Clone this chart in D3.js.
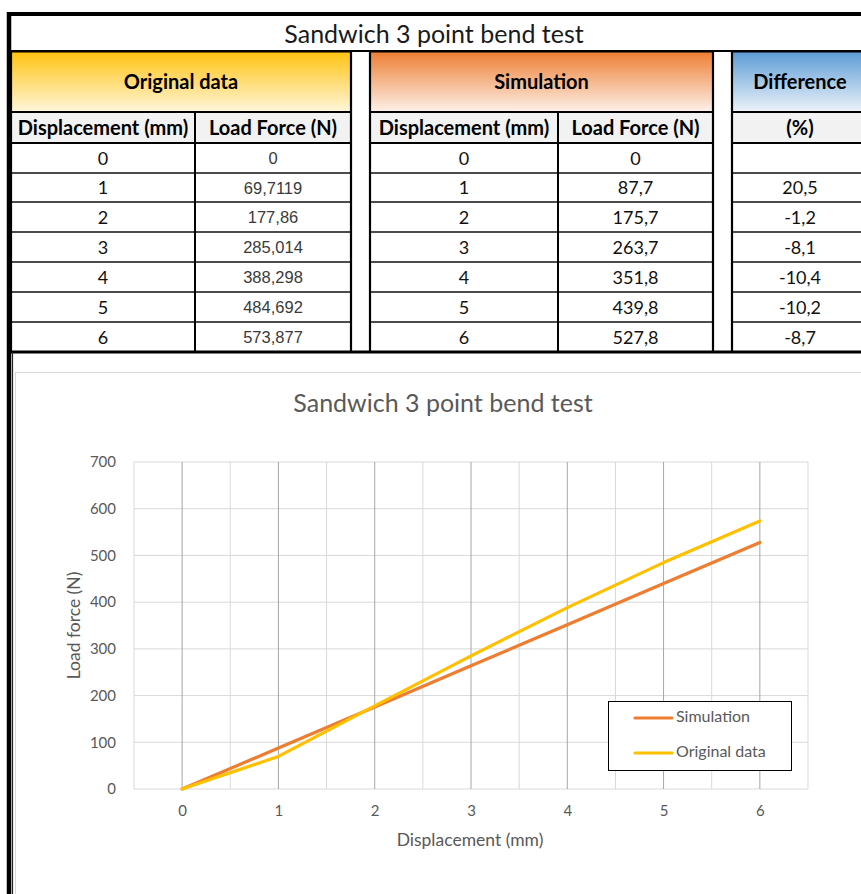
<!DOCTYPE html>
<html>
<head>
<meta charset="utf-8">
<script src="https://cdn.jsdelivr.net/npm/d3@7/dist/d3.min.js"></script>
<style>
  html, body { margin: 0; padding: 0; background: #fff; }
  svg { display: block; }
</style>
</head>
<body>
<svg id="root" width="861" height="894"></svg>
<script>
// Sandwich 3 point bend test: measured vs simulated load force
const displacement = [0, 1, 2, 3, 4, 5, 6];
const originalForce = [0, 69.7119, 177.86, 285.014, 388.298, 484.692, 573.877];
const simulationForce = [0, 87.7, 175.7, 263.7, 351.8, 439.8, 527.8];
const differencePct = [null, 20.5, -1.2, -8.1, -10.4, -10.2, -8.7];
const yTicks = [0, 100, 200, 300, 400, 500, 600, 700];
const xTicks = [0, 1, 2, 3, 4, 5, 6];

const TITLE = "Sandwich 3 point bend test";
const CAL = "Lato, 'Open Sans', sans-serif";
const ARIAL = "'Liberation Sans', Arial, sans-serif";

const svg = d3.select("#root");
const comma = s => String(s).replace(".", ",");
const fmt1 = v => v === 0 ? "0" : comma(v.toFixed(1));

// ---------- table ----------
const defs = svg.append("defs");
function grad(id, top, bottom) {
  const g = defs.append("linearGradient").attr("id", id)
    .attr("x1", 0).attr("y1", 0).attr("x2", 0).attr("y2", 1);
  g.append("stop").attr("offset", "0%").attr("stop-color", top);
  g.append("stop").attr("offset", "100%").attr("stop-color", bottom);
}
grad("gOrig", "#FFC20E", "#FFF6DC");
grad("gSim", "#ED7D31", "#FDF1EA");
grad("gDiff", "#5B9BD5", "#EDF3FA");

const sections = [
  { name: "Original data", fill: "url(#gOrig)", x0: 11, x1: 351, div: 195,
    heads: ["Displacement (mm)", "Load Force (N)"] },
  { name: "Simulation", fill: "url(#gSim)", x0: 370, x1: 713, div: 558,
    heads: ["Displacement (mm)", "Load Force (N)"] },
  { name: "Difference", fill: "url(#gDiff)", x0: 732, x1: 866, div: null,
    heads: ["(%)"] }
];
const rowY = [143, 173, 202, 232, 262, 292, 322, 352];
const yHead0 = 51, yCol0 = 112;

const tbl = svg.append("g");
// title row
tbl.append("text").attr("x", 434).attr("y", 37).attr("text-anchor", "middle")
  .attr("dominant-baseline", "middle")
  .style("font-family", CAL).style("font-size", "25px").style("fill", "#1a1a1a")
  .text(TITLE);

sections.forEach((s, si) => {
  const g = tbl.append("g");
  g.append("rect").attr("x", s.x0).attr("y", yHead0).attr("width", s.x1 - s.x0)
    .attr("height", yCol0 - yHead0).attr("fill", s.fill);
  g.append("text").attr("x", (s.x0 + s.x1) / 2 + (si === 2 ? 1 : 0)).attr("y", 84)
    .attr("text-anchor", "middle").attr("dominant-baseline", "middle")
    .style("font-family", CAL).style("font-weight", "bold").style("font-size", "20px")
    .text(s.name);
  g.append("rect").attr("x", s.x0).attr("y", yCol0).attr("width", s.x1 - s.x0)
    .attr("height", rowY[0] - yCol0).attr("fill", "#F2F2F2");
  const colCenters = s.div ? [(s.x0 + s.div) / 2, (s.div + s.x1) / 2] : [(s.x0 + 866) / 2 + 1];
  s.heads.forEach((h, i) => {
    g.append("text").attr("x", colCenters[i]).attr("y", 130)
      .attr("text-anchor", "middle").attr("dominant-baseline", "middle")
      .style("font-family", CAL).style("font-weight", "bold").style("font-size", "20px")
      .text(h);
  });
  // data cells
  displacement.forEach((d, r) => {
    const cy = (rowY[r] + rowY[r + 1]) / 2 + 2;
    let vals;
    if (si === 0) vals = [[String(d), CAL, "#111", "18px"], [comma(originalForce[r]), ARIAL, "#3a3a3a", "16.5px"]];
    else if (si === 1) vals = [[String(d), CAL, "#111", "18px"], [fmt1(simulationForce[r]), CAL, "#111", "18px"]];
    else vals = [[differencePct[r] === null ? "" : comma(differencePct[r].toFixed(1)), CAL, "#111", "18px"]];
    vals.forEach((v, i) => {
      g.append("text").attr("x", colCenters[i]).attr("y", cy)
        .attr("text-anchor", "middle").attr("dominant-baseline", "middle")
        .style("font-family", v[1]).style("font-size", v[3]).style("fill", v[2])
        .text(v[0]);
    });
  });
  // grid lines of the section
  rowY.slice(1, -1).forEach(y => {
    g.append("line").attr("x1", s.x0).attr("x2", s.x1).attr("y1", y).attr("y2", y)
      .attr("stroke", "#111").attr("stroke-width", 1.6);
  });
  [yHead0 + 0.5, yCol0, rowY[0]].forEach(y => {
    g.append("line").attr("x1", s.x0).attr("x2", s.x1).attr("y1", y).attr("y2", y)
      .attr("stroke", "#000").attr("stroke-width", 2);
  });
  [s.x0, s.x1].forEach(x => {
    g.append("line").attr("x1", x).attr("x2", x).attr("y1", yHead0).attr("y2", 353)
      .attr("stroke", "#000").attr("stroke-width", 2.2);
  });
  if (s.div) {
    g.append("line").attr("x1", s.div).attr("x2", s.div).attr("y1", yCol0).attr("y2", 353)
      .attr("stroke", "#000").attr("stroke-width", 2);
  }
});
// horizontal borders spanning the whole table
tbl.append("line").attr("x1", 11).attr("x2", 861).attr("y1", 352).attr("y2", 352)
  .attr("stroke", "#000").attr("stroke-width", 3);
tbl.append("line").attr("x1", 11).attr("x2", 861).attr("y1", 51).attr("y2", 51)
  .attr("stroke", "#000").attr("stroke-width", 2);
// outer frame
tbl.append("line").attr("x1", 7).attr("x2", 861).attr("y1", 14).attr("y2", 14)
  .attr("stroke", "#000").attr("stroke-width", 4);
tbl.append("line").attr("x1", 9).attr("x2", 9).attr("y1", 12).attr("y2", 894)
  .attr("stroke", "#000").attr("stroke-width", 4.5);
tbl.append("line").attr("x1", 12.5).attr("x2", 12.5).attr("y1", 352).attr("y2", 894)
  .attr("stroke", "#222").attr("stroke-width", 1.2);

// ---------- chart ----------
const chart = svg.append("g");
chart.append("rect").attr("x", 15.5).attr("y", 372.5).attr("width", 870).attr("height", 540)
  .attr("fill", "#fff").attr("stroke", "#D9D9D9").attr("stroke-width", 1);

chart.append("text").attr("x", 443).attr("y", 406).attr("text-anchor", "middle")
  .attr("dominant-baseline", "middle")
  .style("font-family", CAL).style("font-size", "25px").style("fill", "#595959")
  .text(TITLE);

const plot = { left: 134, right: 808, top: 462, bottom: 789 };
const x = d3.scaleLinear().domain([-0.5, 6.5]).range([plot.left, plot.right]);
const y = d3.scaleLinear().domain([0, 700]).range([plot.bottom, plot.top]);

// minor vertical gridlines at half steps (light), major at integers (darker)
const halfSteps = d3.range(-0.5, 6.51, 1);
chart.append("g").selectAll("line").data(halfSteps).join("line")
  .attr("x1", d => x(d)).attr("x2", d => x(d)).attr("y1", plot.top).attr("y2", plot.bottom)
  .attr("stroke", "#D9D9D9").attr("stroke-width", 1);
chart.append("g").selectAll("line").data(yTicks).join("line")
  .attr("x1", plot.left).attr("x2", plot.right).attr("y1", d => y(d)).attr("y2", d => y(d))
  .attr("stroke", "#D9D9D9").attr("stroke-width", 1);
chart.append("g").selectAll("line").data(xTicks).join("line")
  .attr("x1", d => x(d)).attr("x2", d => x(d)).attr("y1", plot.top).attr("y2", plot.bottom)
  .attr("stroke", "#A6A6A6").attr("stroke-width", 1);

// tick labels via d3 axes (domain and tick marks hidden)
const yAxis = chart.append("g").attr("transform", `translate(${plot.left},0)`)
  .call(d3.axisLeft(y).tickValues(yTicks).tickFormat(d3.format("d")).tickSize(0).tickPadding(18));
const xAxis = chart.append("g").attr("transform", `translate(0,${plot.bottom})`)
  .call(d3.axisBottom(x).tickValues(xTicks).tickFormat(d3.format("d")).tickSize(0).tickPadding(16));
[yAxis, xAxis].forEach(a => {
  a.select(".domain").remove();
  a.selectAll("text").style("font-family", CAL).style("font-size", "15px").style("fill", "#595959");
});

chart.append("text").attr("transform", `translate(76,${(plot.top + plot.bottom) / 2}) rotate(-90)`)
  .attr("text-anchor", "middle").attr("dominant-baseline", "middle")
  .style("font-family", CAL).style("font-size", "17.5px").style("fill", "#595959")
  .text("Load force (N)");
chart.append("text").attr("x", 470).attr("y", 842).attr("text-anchor", "middle")
  .attr("dominant-baseline", "middle")
  .style("font-family", CAL).style("font-size", "17.5px").style("fill", "#595959")
  .text("Displacement (mm)");

const series = [
  { name: "Simulation", values: simulationForce, color: "#ED7D31" },
  { name: "Original data", values: originalForce, color: "#FFC000" }
];
const line = d3.line().x((d, i) => x(displacement[i])).y(d => y(d));
series.forEach(s => {
  chart.append("path").datum(s.values).attr("d", line)
    .attr("fill", "none").attr("stroke", s.color).attr("stroke-width", 3.2)
    .attr("stroke-linejoin", "round").attr("stroke-linecap", "round");
});

// legend
const lg = chart.append("g");
lg.append("rect").attr("x", 608.5).attr("y", 701.5).attr("width", 183).attr("height", 69)
  .attr("fill", "#fff").attr("stroke", "#000").attr("stroke-width", 1);
series.forEach((s, i) => {
  const ly = 718 + i * 35;
  lg.append("line").attr("x1", 635).attr("x2", 672).attr("y1", ly).attr("y2", ly)
    .attr("stroke", s.color).attr("stroke-width", 3.2).attr("stroke-linecap", "round");
  lg.append("text").attr("x", 676).attr("y", ly).attr("dominant-baseline", "middle")
    .style("font-family", CAL).style("font-size", "16px").style("fill", "#595959")
    .text(s.name);
});
</script>
</body>
</html>
